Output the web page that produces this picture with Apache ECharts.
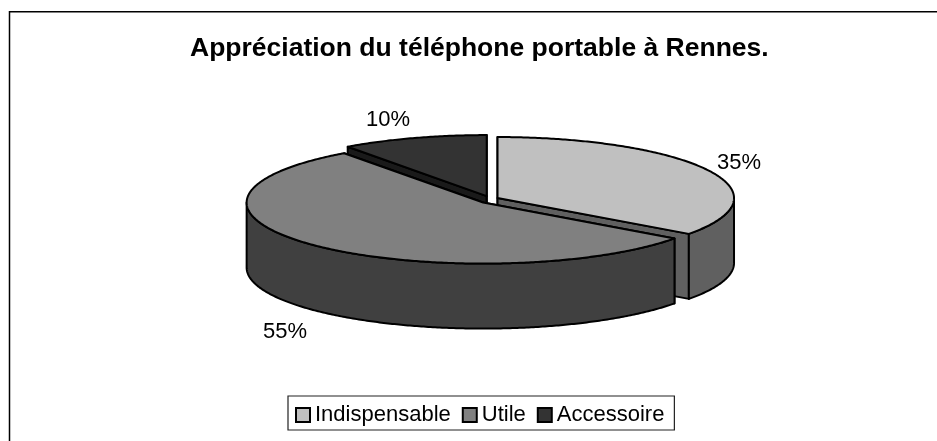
<!DOCTYPE html>
<html><head><meta charset="utf-8">
<style>html,body{margin:0;padding:0;background:#fff}#c{width:937px;height:441px}</style>
<script src="https://cdn.jsdelivr.net/npm/echarts@6/dist/echarts.min.js"></script>
</head><body><div id="c"></div>
<script>
var categories = ['Indispensable', 'Utile', 'Accessoire'];
var values = [35, 55, 10];
var topColors = ['#c0c0c0', '#808080', '#333333'];
var wallColors = ['#606060', '#404040', '#1a1a1a'];
var labelPos = [[739, 163], [285, 332], [388, 120]];

var CX = 489.5, CY = 199.8, RX = 236.5, RY = 61, H = 65, EX = 9, EY = 3.9, FONT = 'Liberation Sans, Arial, sans-serif';
var total = values.reduce(function (a, b) { return a + b; }, 0);

function pt(c, a, dy) { return [c[0] + RX * Math.sin(a), c[1] - RY * Math.cos(a) + (dy || 0)]; }
function arc(c, a0, a1, dy) {
  var out = [], n = Math.max(2, Math.ceil(Math.abs(a1 - a0) / 0.01));
  for (var i = 0; i <= n; i++) out.push(pt(c, a0 + (a1 - a0) * i / n, dy));
  return out;
}
function makeRender(idx) {
  return function (params, api) {
    var before = 0;
    for (var i = 0; i < idx; i++) before += values[i];
    var a0 = before / total * 2 * Math.PI;
    var a1 = (before + api.value(0)) / total * 2 * Math.PI;
    var mid = (a0 + a1) / 2;
    var c = [CX + EX * Math.sin(mid), CY - EY * Math.cos(mid)];
    var ln = { stroke: '#000', lineWidth: 2, lineJoin: 'round' };
    var kids = [];
    function poly(points, fill) {
      kids.push({ type: 'polygon', shape: { points: points }, style: Object.assign({ fill: fill }, ln) });
    }
    // radial walls
    [a0, a1].forEach(function (a) {
      var p = pt(c, a);
      poly([c, p, [p[0], p[1] + H], [c[0], c[1] + H]], wallColors[idx]);
    });
    // outer wall: only the front half of the ellipse (angles from 90deg to 270deg)
    var w0 = Math.max(a0, Math.PI / 2), w1 = Math.min(a1, 3 * Math.PI / 2);
    if (w1 > w0) poly(arc(c, w0, w1).concat(arc(c, w1, w0, H)), wallColors[idx]);
    // top face
    poly([c].concat(arc(c, a0, a1)), topColors[idx]);
    kids.push({ type: 'text', x: labelPos[idx][0], y: labelPos[idx][1],
      style: { text: api.value(0) + '%', fill: '#000', font: '22px ' + FONT, align: 'center', verticalAlign: 'middle' } });
    return { type: 'group', children: kids };
  };
}
// painter's order: back slice first, front slice last
var order = [2, 0, 1];
var series = order.map(function (idx) {
  return { type: 'custom', name: categories[idx], coordinateSystem: 'none', silent: true, animation: false,
    itemStyle: { color: topColors[idx] }, data: [[values[idx]]], renderItem: makeRender(idx) };
});
var chart = echarts.init(document.getElementById('c'), null, { renderer: 'canvas' });
chart.setOption({
  animation: false,
  backgroundColor: '#fff',
  graphic: [{ type: 'rect', silent: true, z: -1, shape: { x: 9.5, y: 11.7, width: 1000, height: 600 }, style: { fill: '#fff', stroke: '#000', lineWidth: 1.5 } }],
  title: { text: 'Appréciation du téléphone portable à Rennes.', left: 185, top: 30,
    textStyle: { fontFamily: FONT, fontSize: 26.5, fontWeight: 'bold', color: '#000' } },
  legend: { data: categories, left: 288, top: 396, orient: 'horizontal', icon: 'rect', itemWidth: 14, itemHeight: 14, itemGap: 11,
    padding: [8, 10, 4, 7], borderColor: '#222', borderWidth: 1.2, backgroundColor: '#fff',
    selectedMode: false, itemStyle: { borderColor: '#000', borderWidth: 2 },
    textStyle: { fontFamily: FONT, fontSize: 22, color: '#000', padding: [0, 0, 0, 0] } },
  series: series
});
</script></body></html>
